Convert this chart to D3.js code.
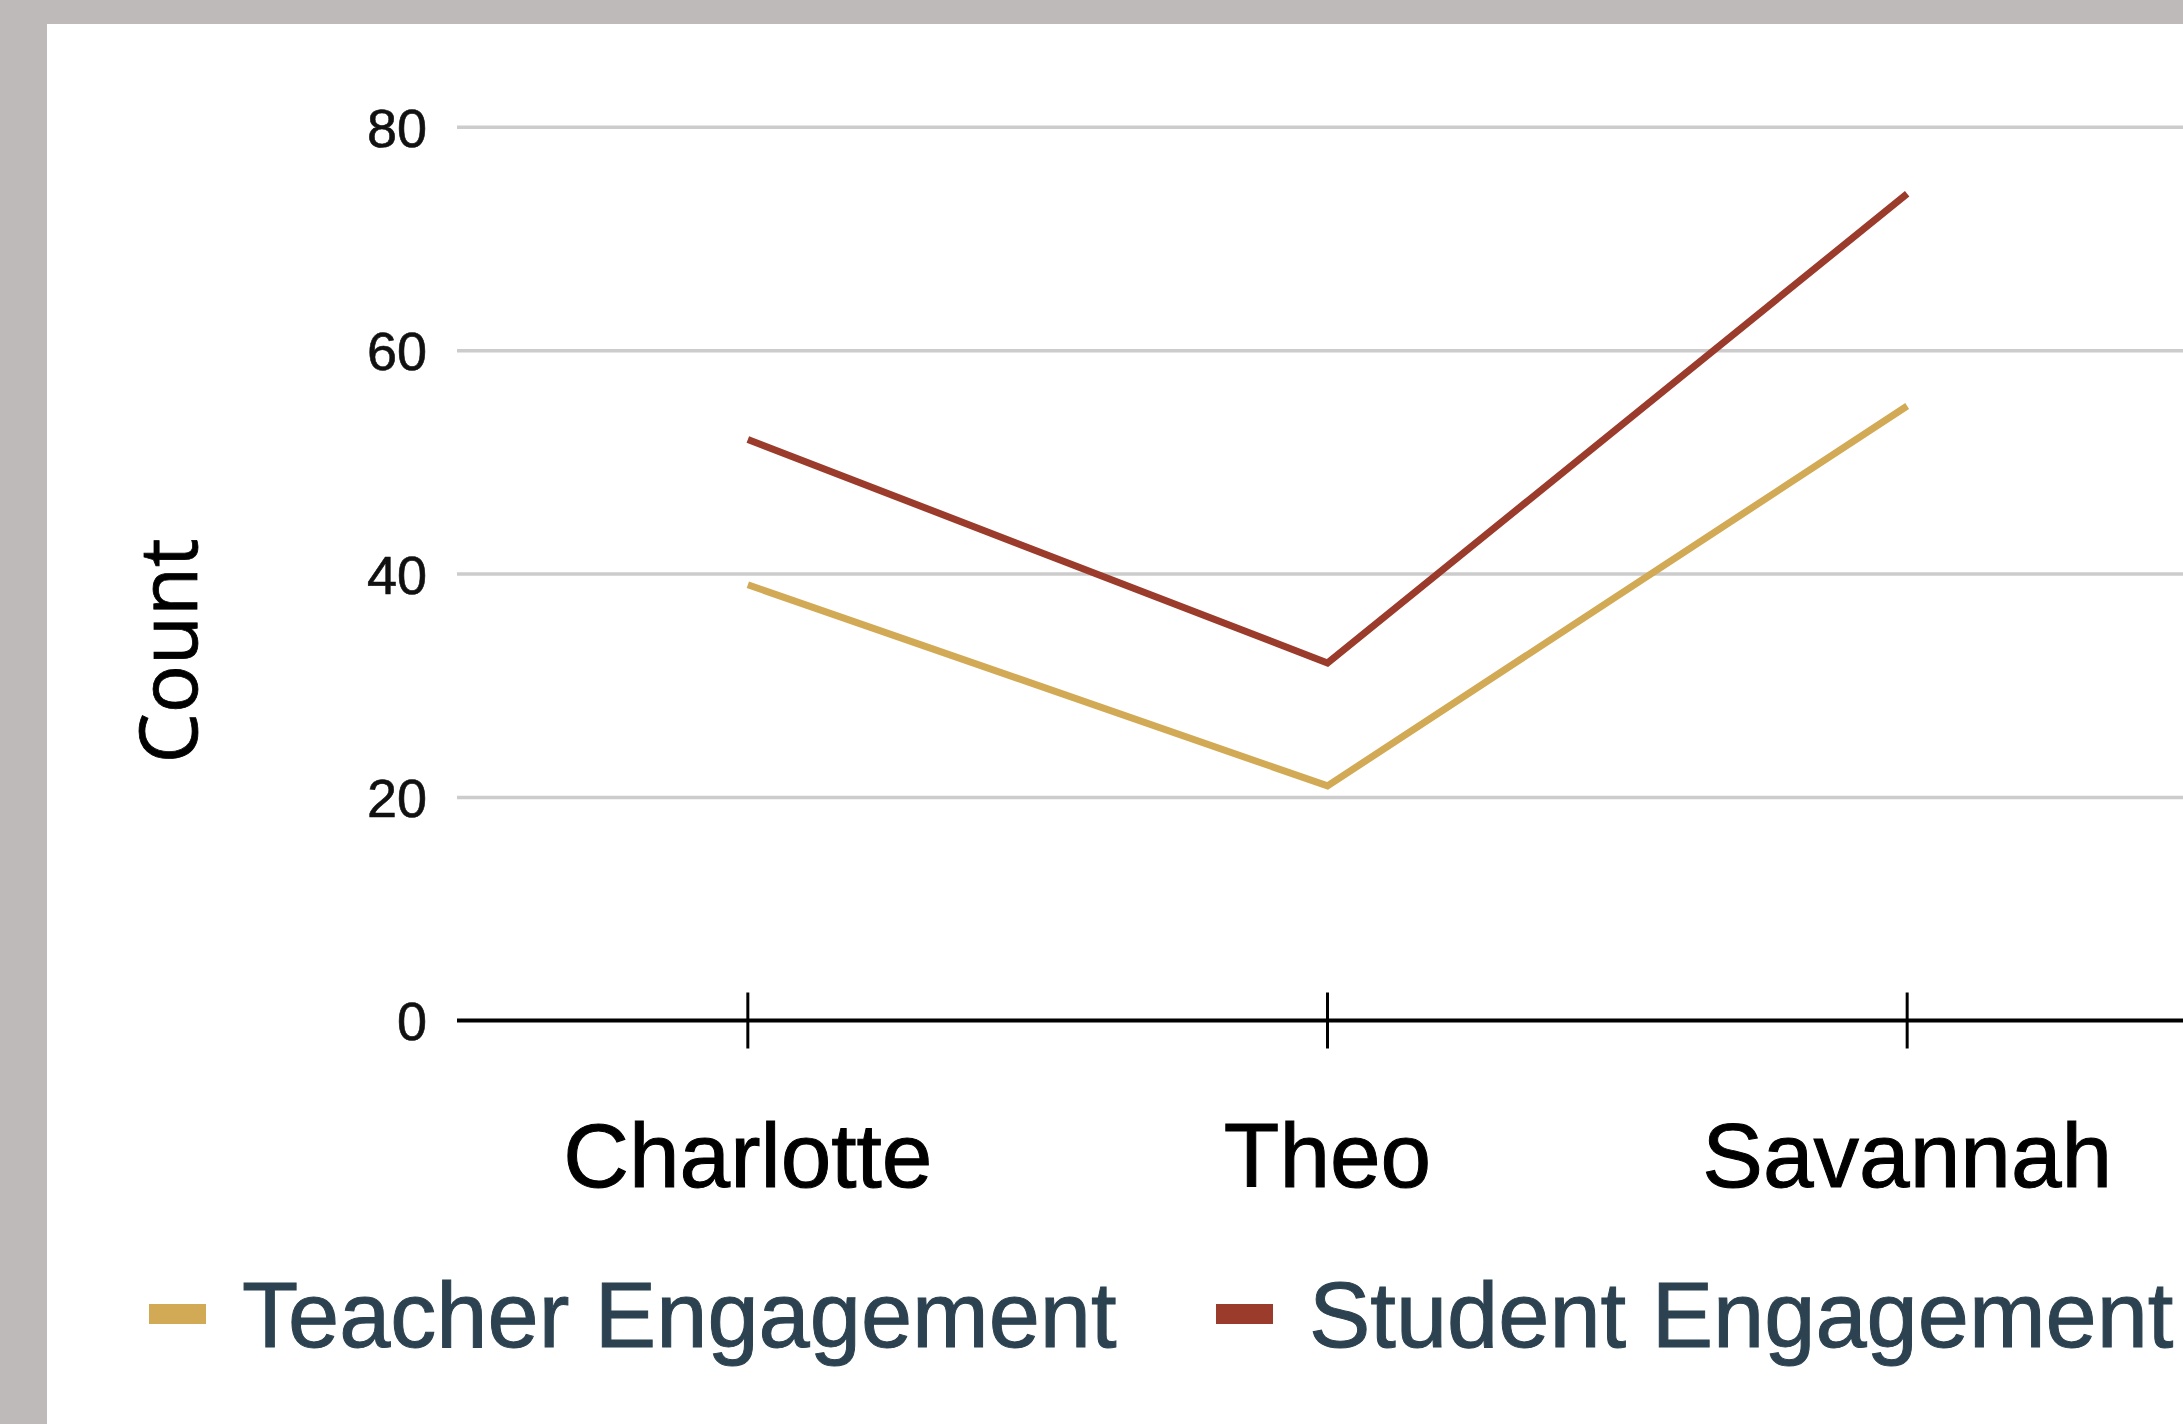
<!DOCTYPE html>
<html>
<head>
<meta charset="utf-8">
<script src="https://cdn.jsdelivr.net/npm/d3@7"></script>
<style>
  html, body { margin: 0; padding: 0; background: #bebab9; }
  svg { display: block; }
</style>
</head>
<body>
<script>

var categories = ["Charlotte", "Theo", "Savannah"];
var teacherValues = [39, 21, 55];
var studentValues = [52, 32, 74];
var yTicks = [0, 20, 40, 60, 80];
var seriesNames = ["Teacher Engagement", "Student Engagement"];
var seriesColors = ["#d2aa56", "#9b3b2c"];

var W = 2183, H = 1424;

var svg = d3.select("body")
    .append("svg")
    .attr("width", W)
    .attr("height", H)

// white card, grey frame left and top
svg.append("rect")
    .attr("x", 47)
    .attr("y", 24)
    .attr("width", W - 47)
    .attr("height", H - 24)
    .style("fill", "#fff")

var x = d3.scaleBand()
    .domain(categories)
    .range([458, 2197])
    .padding(0)

var y = d3.scaleLinear()
    .domain([0, 80])
    .range([1020.5, 126.7])

// gridlines
var grid = svg.append("g")
    .attr("transform", "translate(457,0)")
    .call(d3.axisLeft(y).tickValues(yTicks.filter(function (d) { return d > 0; }))
        .tickSize(-(W - 457)).tickFormat(""))
grid.select(".domain").remove()
grid.selectAll("line")
    .style("stroke", "#cccccc")
    .style("stroke-width", 3.5)

// y tick labels
var yAxis = svg.append("g")
    .attr("transform", "translate(427,0)")
    .call(d3.axisLeft(y).tickValues(yTicks).tickSize(0).tickPadding(0))
yAxis.select(".domain").remove()
yAxis.selectAll("text")
    .style("font-family", "'Liberation Sans', Arial, sans-serif")
    .style("font-size", "54px")
    .style("fill", "#111")
    .style("stroke", "#111")
    .style("stroke-width", 0.6)
    .attr("dy", "0.36em")

// x axis with crossing ticks
var xAxis = svg.append("g")
    .attr("transform", "translate(0," + y(0) + ")")
    .call(d3.axisBottom(x).tickSizeInner(27).tickSizeOuter(0).tickPadding(0))
xAxis.select(".domain")
    .attr("d", "M457,0H" + W)
    .style("stroke", "#000")
    .style("stroke-width", 4)
xAxis.selectAll(".tick line")
    .attr("y1", -28)
    .attr("y2", 28)
    .style("stroke", "#000")
    .style("stroke-width", 3)
xAxis.selectAll(".tick text")
    .attr("y", 166)
    .attr("dy", 0)
    .style("font-family", "'Liberation Sans', Arial, sans-serif")
    .style("font-size", "91px")
    .style("fill", "#000")
    .style("stroke", "#000")
    .style("stroke-width", 1)

// y axis title
svg.append("text")
    .attr("transform", "translate(197,651) rotate(-90)")
    .attr("text-anchor", "middle")
    .style("font-family", "'Open Sans', sans-serif")
    .style("font-size", "80px")
    .style("fill", "#000")
    .style("stroke", "#000")
    .style("stroke-width", 0.8)
    .text("Count")

// lines
var line = d3.line()
    .x(function (d, i) { return x(categories[i]) + x.bandwidth() / 2; })
    .y(function (d) { return y(d); })

var series = [teacherValues, studentValues];
series.forEach(function (vals, i) {
    svg.append("path")
        .datum(vals)
        .attr("d", line)
        .style("fill", "none")
        .style("stroke", seriesColors[i])
        .style("stroke-width", 7)
        .style("stroke-linejoin", "miter")
        .style("stroke-linecap", "butt")
})

// legend
var legendX = [149, 1216];
var legend = svg.append("g")
seriesNames.forEach(function (name, i) {
    legend.append("rect")
        .attr("x", legendX[i])
        .attr("y", 1304)
        .attr("width", 57)
        .attr("height", 20)
        .style("fill", seriesColors[i])
    legend.append("text")
        .attr("x", legendX[i] + 93)
        .attr("y", 1347)
        .style("font-family", "'Liberation Sans', Arial, sans-serif")
        .style("font-size", "92px")
        .style("fill", "#2c4250")
        .style("stroke", "#2c4250")
        .style("stroke-width", 1)
        .text(name)
})

</script>
</body>
</html>
